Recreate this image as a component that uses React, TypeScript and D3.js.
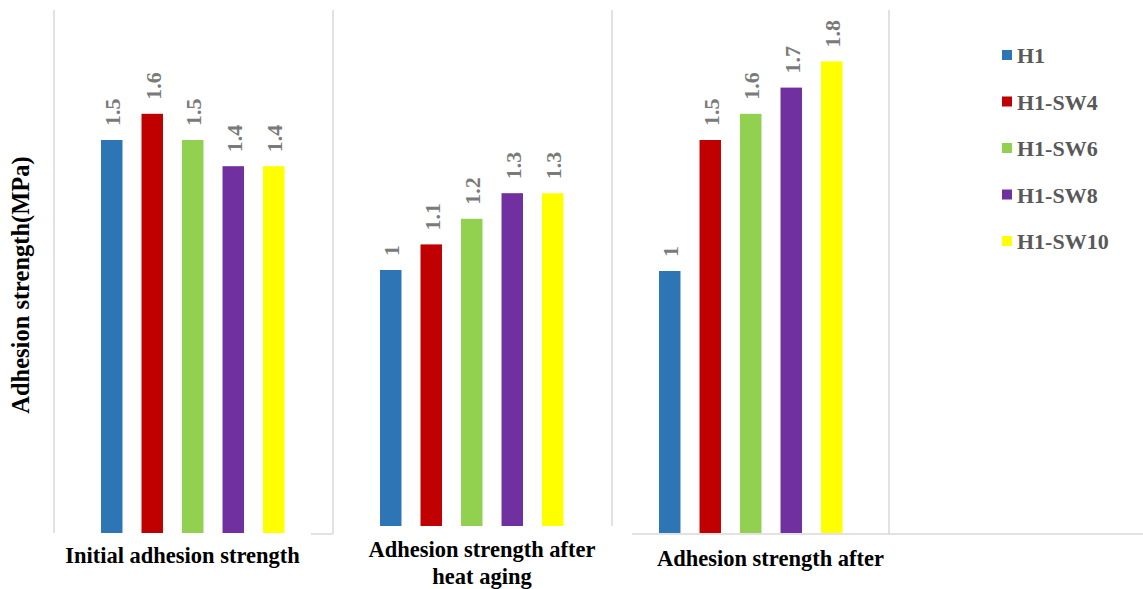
import React from 'react';
import * as d3 from 'd3';

// Series (legend entries) and their fill colours
const series = ['H1', 'H1-SW4', 'H1-SW6', 'H1-SW8', 'H1-SW10'];
const seriesColors = ['#2E75B6', '#C00000', '#92D050', '#7030A0', '#FFFF00'];

// Test conditions (one group of bars each); multi-line labels split into lines
const categoryLines = [
  ['Initial adhesion strength'],
  ['Adhesion strength after', 'heat aging'],
  ['Adhesion strength after'],
];

// Adhesion strength values (MPa) per condition, in series order
const initialValues = [1.5, 1.6, 1.5, 1.4, 1.4];
const heatAgingValues = [1, 1.1, 1.2, 1.3, 1.3];
const afterValues = [1, 1.5, 1.6, 1.7, 1.8];

const yTitle = 'Adhesion strength(MPa)';

const W = 1143;
const H = 589;
const FONT = "'Liberation Serif', 'Times New Roman', Times, serif";
const GRID = '#d9d9d9';

// Each group is drawn as its own small plot area
const panels = [
  { values: initialValues, lines: categoryLines[0], bandStart: 91.5, baseline: 533, unitPx: 262, labelX: 182.5, labelY: 563 },
  { values: heatAgingValues, lines: categoryLines[1], bandStart: 370.5, baseline: 526, unitPx: 256, labelX: 482, labelY: 557 },
  { values: afterValues, lines: categoryLines[2], bandStart: 649.5, baseline: 533, unitPx: 262, labelX: 770.5, labelY: 566 },
];

const textStyle = { fontFamily: FONT, fontWeight: 700 } as const;

export default function App() {
  return (
    <svg
      width={W}
      height={H}
      style={{ position: 'absolute', left: 0, top: 0, background: '#fff' }}
    >
      <rect x={0} y={0} width={W} height={H} fill="#fff" />

      {/* plot area borders */}
      <g stroke={GRID} strokeWidth={1.5} fill="none">
        <line x1={54} y1={10} x2={54} y2={533} />
        <line x1={333} y1={10} x2={333} y2={534} />
        <line x1={311} y1={534} x2={333} y2={534} />
        <line x1={612} y1={10} x2={612} y2={526} />
        <line x1={889} y1={10} x2={889} y2={534} />
        <line x1={632} y1={534} x2={W} y2={534} />
      </g>

      {panels.map((p, pi) => {
        const x = d3
          .scaleBand<string>()
          .domain(series)
          .range([p.bandStart, p.bandStart + 202.5])
          .paddingInner(0.47)
          .paddingOuter(0.235);
        const y = d3
          .scaleLinear()
          .domain([0, 2])
          .range([p.baseline, p.baseline - 2 * p.unitPx]);
        return (
          <g key={pi}>
            {p.values.map((v, i) => {
              const bx = x(series[i]) as number;
              const bw = x.bandwidth();
              return (
                <g key={i}>
                  <rect x={bx} y={y(v)} width={bw} height={y(0) - y(v)} fill={seriesColors[i]} />
                  <text
                    transform={`translate(${bx + bw / 2 + 1},${y(v) - 14}) rotate(-90)`}
                    textAnchor="start"
                    dominantBaseline="central"
                    fontSize={22}
                    fill="#7a7a7a"
                    style={textStyle}
                  >
                    {String(v)}
                  </text>
                </g>
              );
            })}
            {p.lines.map((ln, li) => (
              <text
                key={li}
                x={p.labelX}
                y={p.labelY + li * 27}
                textAnchor="middle"
                fontSize={22.5}
                fill="#000"
                style={textStyle}
              >
                {ln}
              </text>
            ))}
          </g>
        );
      })}

      {/* y axis title */}
      <text
        transform="translate(29,285) rotate(-90)"
        textAnchor="middle"
        fontSize={24.5}
        fill="#000"
        style={textStyle}
      >
        {yTitle}
      </text>

      {/* legend */}
      <g>
        {series.map((s, i) => {
          const cy = 55 + i * 46.5;
          return (
            <g key={s}>
              <rect x={1002} y={cy - 5} width={10} height={10} fill={seriesColors[i]} />
              <text x={1017} y={cy + 8} fontSize={22} fill="#595959" style={textStyle}>
                {s}
              </text>
            </g>
          );
        })}
      </g>
    </svg>
  );
}
